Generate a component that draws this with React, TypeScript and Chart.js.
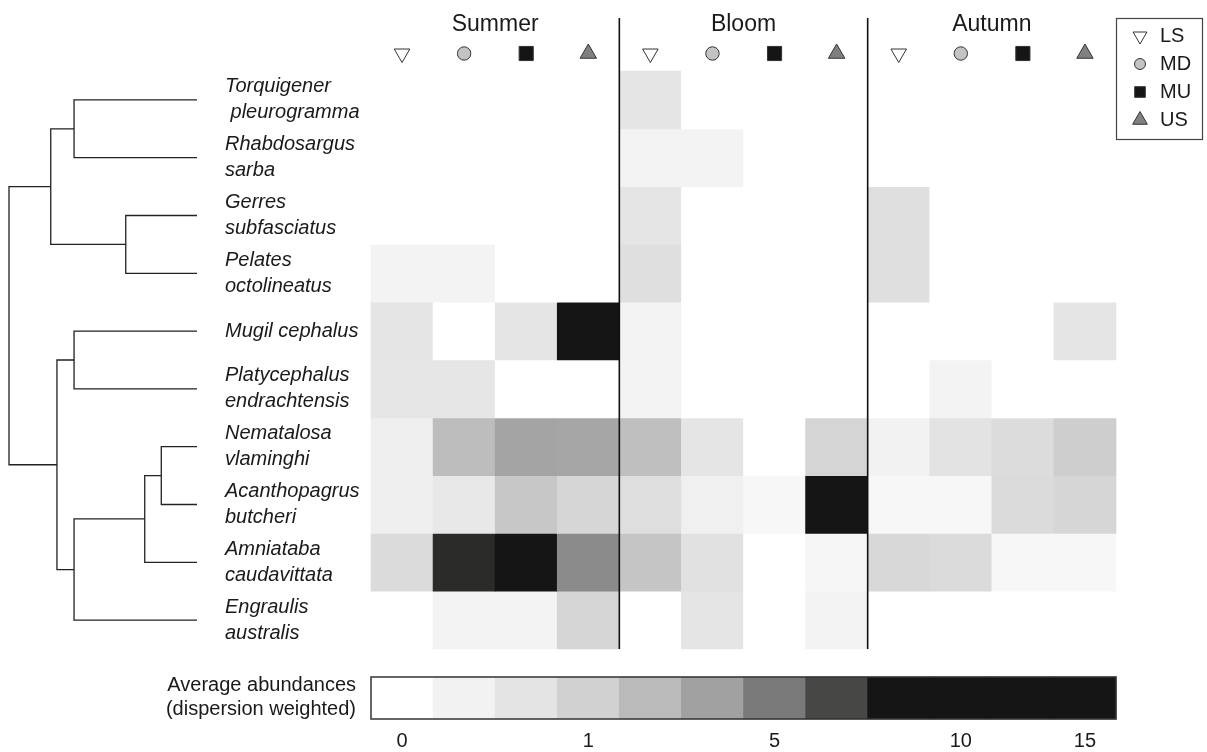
import React, { useEffect, useRef } from 'react';
import { Chart, registerables } from 'chart.js';
import { drawPoint } from 'chart.js/helpers';

Chart.register(...registerables);

// ---------------- data ----------------
const speciesLabels = [
  'Torquigener\n pleurogramma',
  'Rhabdosargus\nsarba',
  'Gerres\nsubfasciatus',
  'Pelates\noctolineatus',
  'Mugil cephalus',
  'Platycephalus\nendrachtensis',
  'Nematalosa\nvlaminghi',
  'Acanthopagrus\nbutcheri',
  'Amniataba\ncaudavittata',
  'Engraulis\naustralis',
];
const seasons = ['Summer', 'Bloom', 'Autumn'];
const sites = ['LS', 'MD', 'MU', 'US'];

// average abundance (dispersion weighted); columns: Summer LS MD MU US | Bloom LS MD MU US | Autumn LS MD MU US
const torquigenerPleurogramma = [0, 0, 0, 0, 0.64, 0, 0, 0, 0, 0, 0, 0];
const rhabdosargusSarba = [0, 0, 0, 0, 0.31, 0.31, 0, 0, 0, 0, 0, 0];
const gerresSubfasciatus = [0, 0, 0, 0, 0.64, 0, 0, 0, 0.76, 0, 0, 0];
const pelatesOctolineatus = [0.31, 0.31, 0, 0, 0.76, 0, 0, 0, 0.76, 0, 0, 0];
const mugilCephalus = [0.64, 0, 0.64, 12, 0.31, 0, 0, 0, 0, 0, 0, 0.64];
const platycephalusEndrachtensis = [0.62, 0.62, 0, 0, 0.31, 0, 0, 0, 0, 0.31, 0, 0];
const nematalosaVlaminghi = [0.4, 2.17, 3.5, 3.4, 2.05, 0.64, 0, 0.93, 0.33, 0.69, 0.81, 1.17];
const acanthopagrusButcheri = [0.4, 0.56, 1.6, 0.91, 0.78, 0.38, 0.2, 14, 0.2, 0.2, 0.83, 0.91];
const amniatabaCaudavittata = [0.83, 7.6, 10.5, 4.43, 1.67, 0.72, 0, 0.23, 0.87, 0.83, 0.2, 0.2];
const engraulisAustralis = [0, 0.31, 0.31, 0.93, 0, 0.64, 0, 0.31, 0, 0, 0, 0];

const abundanceRows = [
  torquigenerPleurogramma,
  rhabdosargusSarba,
  gerresSubfasciatus,
  pelatesOctolineatus,
  mugilCephalus,
  platycephalusEndrachtensis,
  nematalosaVlaminghi,
  acanthopagrusButcheri,
  amniatabaCaudavittata,
  engraulisAustralis,
];

// dendrogram, hclust-style merges (negative = leaf number, positive = earlier merge)
const mergeLeft = [-7, 1, -3, -1, -5, 2, 5, 4, 8];
const mergeRight = [-8, -9, -4, -2, -6, -10, 6, 3, 7];
const mergeHeight = [0.19, 0.278, 0.379, 0.654, 0.654, 0.654, 0.745, 0.778, 1.0];

// colour scale
const scaleValues = [0, 1, 5, 10];
const scaleLevels = [0, 3, 6, 9];
const greyPalette = ['#ffffff', '#f2f2f2', '#e3e4e3', '#d1d1d1', '#b9bab9', '#a0a1a0', '#7a7a7a', '#474745', '#151515'];
const colourbarCells = [0, 1, 2, 3, 4, 5, 6, 7, 8, 8, 8, 8];
const colourbarTickLabels = ['0', '1', '5', '10', '15'];
const colourbarTickCells = [0, 3, 6, 9, 11];

// site symbols
const siteStyles = [
  { pointStyle: 'triangle', rotation: 180, fill: '#ffffff', r: 9, lr: 8 },
  { pointStyle: 'circle', rotation: 0, fill: '#c3c3c3', r: 6.7, lr: 5.5 },
  { pointStyle: 'rect', rotation: 0, fill: '#151515', r: 10, lr: 7.5 },
  { pointStyle: 'triangle', rotation: 0, fill: '#808080', r: 9.5, lr: 8.5 },
];

// ---------------- layout ----------------
const W = 1207;
const H = 752;
const HEAT_L = 371;
const HEAT_R = 1116;
const HEAT_T = 71;
const HEAT_B = 649;
const NCOL = 12;
const NROW = 10;
const COL_W = (HEAT_R - HEAT_L) / NCOL;
const ROW_H = (HEAT_B - HEAT_T) / NROW;
const DENDRO_LEAF = 197;
const DENDRO_ROOT = 9;
const CB_T = 677;
const CB_B = 719;
const SEP_TOP_PX = 18;
const HEADER_SYM_PX = 53.5;
const TEXT = '#1a1a1a';
const FONT = '"Liberation Sans", Arial, Helvetica, sans-serif';

function hexToRgb(h: string) {
  const n = parseInt(h.slice(1), 16);
  return [(n >> 16) & 255, (n >> 8) & 255, n & 255];
}

function levelOf(v: number) {
  if (v <= scaleValues[0]) return scaleLevels[0];
  for (let k = 1; k < scaleValues.length; k++) {
    if (v <= scaleValues[k]) {
      const t = (v - scaleValues[k - 1]) / (scaleValues[k] - scaleValues[k - 1]);
      return scaleLevels[k - 1] + t * (scaleLevels[k] - scaleLevels[k - 1]);
    }
  }
  return scaleLevels[scaleLevels.length - 1];
}

function colourOf(v: number) {
  const L = Math.max(0, Math.min(greyPalette.length - 1, levelOf(v)));
  const i = Math.floor(L);
  const j = Math.min(greyPalette.length - 1, i + 1);
  const t = L - i;
  const a = hexToRgb(greyPalette[i]);
  const b = hexToRgb(greyPalette[j]);
  const c = a.map((x, k) => Math.round(x + (b[k] - x) * t));
  return `rgb(${c[0]},${c[1]},${c[2]})`;
}

function dendrogramSegments() {
  const nodeY: number[] = [];
  const nodeH: number[] = [];
  const pos = (id: number) => (id < 0 ? { y: -id - 1 + 0.5, h: 0 } : { y: nodeY[id - 1], h: nodeH[id - 1] });
  const segs: { x: number; y: number }[][] = [];
  mergeLeft.forEach((l, k) => {
    const a = pos(l);
    const b = pos(mergeRight[k]);
    const h = mergeHeight[k];
    nodeY[k] = (a.y + b.y) / 2;
    nodeH[k] = h;
    segs.push([
      { x: a.h, y: a.y },
      { x: h, y: a.y },
      { x: h, y: b.y },
      { x: b.h, y: b.y },
    ]);
  });
  return segs;
}

const annotationPlugin = {
  id: 'annotations',
  afterDatasetsDraw(chart: any) {
    const { ctx, scales } = chart;
    const x = scales.x;
    const y = scales.y;
    const ycb = scales.ycb;
    ctx.save();
    ctx.fillStyle = TEXT;

    // season titles
    ctx.font = `23px ${FONT}`;
    ctx.textAlign = 'center';
    ctx.textBaseline = 'alphabetic';
    seasons.forEach((s, i) => {
      ctx.fillText(s, x.getPixelForValue(i * 4 + 2), 31);
    });

    // species labels
    ctx.font = `italic 20px ${FONT}`;
    ctx.textAlign = 'left';
    ctx.textBaseline = 'middle';
    const labelX = x.getPixelForValue(0) - 146;
    speciesLabels.forEach((lab, i) => {
      const c = y.getPixelForValue(i + 0.5);
      const lines = lab.split('\n');
      if (lines.length === 1) ctx.fillText(lines[0], labelX, c);
      else {
        ctx.fillText(lines[0], labelX, c - 13);
        ctx.fillText(lines[1], labelX, c + 13);
      }
    });

    // legend box
    ctx.strokeStyle = '#444';
    ctx.lineWidth = 1.2;
    ctx.strokeRect(1116.5, 18.5, 86, 121);
    ctx.font = `20px ${FONT}`;
    ctx.textAlign = 'left';
    ctx.textBaseline = 'middle';
    sites.forEach((s, j) => {
      const st = siteStyles[j];
      const ly = 36 + j * 28;
      ctx.fillStyle = st.fill;
      ctx.strokeStyle = '#333';
      ctx.lineWidth = 1;
      drawPoint(ctx, { pointStyle: st.pointStyle as any, rotation: st.rotation, radius: st.lr, borderWidth: 1 }, 1140, ly);
      ctx.fillStyle = TEXT;
      ctx.fillText(s, 1160, ly);
    });

    // colourbar outline
    const cl = x.getPixelForValue(0);
    const cr = x.getPixelForValue(NCOL);
    const ct = ycb.getPixelForValue(1);
    const cb = ycb.getPixelForValue(0);
    ctx.strokeStyle = '#333';
    ctx.lineWidth = 1.5;
    ctx.strokeRect(cl, ct, cr - cl, cb - ct);

    // colourbar ticks
    ctx.fillStyle = TEXT;
    ctx.font = `20px ${FONT}`;
    ctx.textAlign = 'center';
    ctx.textBaseline = 'middle';
    colourbarTickLabels.forEach((t, k) => {
      ctx.fillText(t, x.getPixelForValue(colourbarTickCells[k] + 0.5), 741);
    });

    // colourbar title
    ctx.textAlign = 'right';
    ctx.fillText('Average abundances', cl - 15, 685);
    ctx.fillText('(dispersion weighted)', cl - 15, 709);
    ctx.restore();
  },
};

export default function App() {
  const ref = useRef<HTMLCanvasElement>(null);
  useEffect(() => {
    const xMin = -HEAT_L / COL_W;
    const xMax = NCOL + (W - HEAT_R) / COL_W;
    const yMin = -HEAT_T / ROW_H;
    const yMax = NROW + (H - HEAT_B) / ROW_H;
    const dUnit = DENDRO_LEAF - DENDRO_ROOT;
    const rootH = mergeHeight[mergeHeight.length - 1];
    const xdMax = (DENDRO_LEAF / dUnit) * rootH;
    const xdMin = xdMax - (W / dUnit) * rootH;
    const cbUnit = CB_B - CB_T;
    const ycbMin = -(H - CB_B) / cbUnit;
    const ycbMax = ycbMin + H / cbUnit;
    const sepTop = (SEP_TOP_PX - HEAT_T) / ROW_H;
    const headerY = (HEADER_SYM_PX - HEAT_T) / ROW_H;

    const datasets: any[] = [];
    // separators
    [4, 8].forEach((c) => {
      datasets.push({
        type: 'line',
        data: [
          { x: c, y: sepTop },
          { x: c, y: NROW },
        ],
        xAxisID: 'x',
        yAxisID: 'y',
        borderColor: '#111',
        borderWidth: 1.6,
        pointRadius: 0,
        fill: false,
        order: 0,
      });
    });
    // header symbols
    sites.forEach((s, j) => {
      const st = siteStyles[j];
      datasets.push({
        type: 'scatter',
        label: s,
        data: seasons.map((_, si) => ({ x: si * 4 + j + 0.5, y: headerY })),
        xAxisID: 'x',
        yAxisID: 'y',
        pointStyle: st.pointStyle,
        rotation: st.rotation,
        radius: st.r,
        pointRadius: st.r,
        backgroundColor: st.fill,
        borderColor: '#333',
        borderWidth: 1,
        order: 0,
      });
    });
    // dendrogram
    dendrogramSegments().forEach((seg) => {
      datasets.push({
        type: 'line',
        data: seg,
        xAxisID: 'xd',
        yAxisID: 'y',
        borderColor: '#222',
        borderWidth: 1.3,
        pointRadius: 0,
        fill: false,
        tension: 0,
        order: 1,
      });
    });
    // heatmap
    abundanceRows.forEach((row, i) => {
      datasets.push({
        type: 'bar',
        label: speciesLabels[i],
        data: row.map((v, j) => ({ x: j + 0.5, y: [i, i + 1] })),
        backgroundColor: row.map((v) => colourOf(v)),
        borderWidth: 0,
        categoryPercentage: 1,
        barPercentage: 1,
        grouped: false,
        xAxisID: 'x',
        yAxisID: 'y',
        order: 10,
      });
    });
    // colourbar
    datasets.push({
      type: 'bar',
      data: colourbarCells.map((_, k) => ({ x: k + 0.5, y: [0, 1] })),
      backgroundColor: colourbarCells.map((c) => greyPalette[c]),
      borderWidth: 0,
      categoryPercentage: 1,
      barPercentage: 1,
      grouped: false,
      xAxisID: 'x',
      yAxisID: 'ycb',
      order: 10,
    });

    const chart = new Chart(ref.current!, {
      type: 'bar',
      data: { datasets },
      options: {
        responsive: false,
        animation: false,
        devicePixelRatio: 1,
        events: [],
        layout: { padding: 0, autoPadding: false },
        plugins: { legend: { display: false }, tooltip: { enabled: false } },
        scales: {
          x: { type: 'linear', display: false, offset: false, min: xMin, max: xMax, ticks: { stepSize: 1, includeBounds: false } },
          xd: { type: 'linear', axis: 'x', display: false, offset: false, reverse: true, min: xdMin, max: xdMax },
          y: { type: 'linear', display: false, reverse: true, min: yMin, max: yMax, beginAtZero: false },
          ycb: { type: 'linear', axis: 'y', display: false, min: ycbMin, max: ycbMax, beginAtZero: false },
        },
      } as any,
      plugins: [annotationPlugin],
    });
    return () => chart.destroy();
  }, []);
  return (
    <div style={{ position: 'absolute', left: 0, top: 0, width: W, height: H, background: '#fff' }}>
      <canvas ref={ref} width={W} height={H} style={{ width: W, height: H, display: 'block' }} />
    </div>
  );
}
